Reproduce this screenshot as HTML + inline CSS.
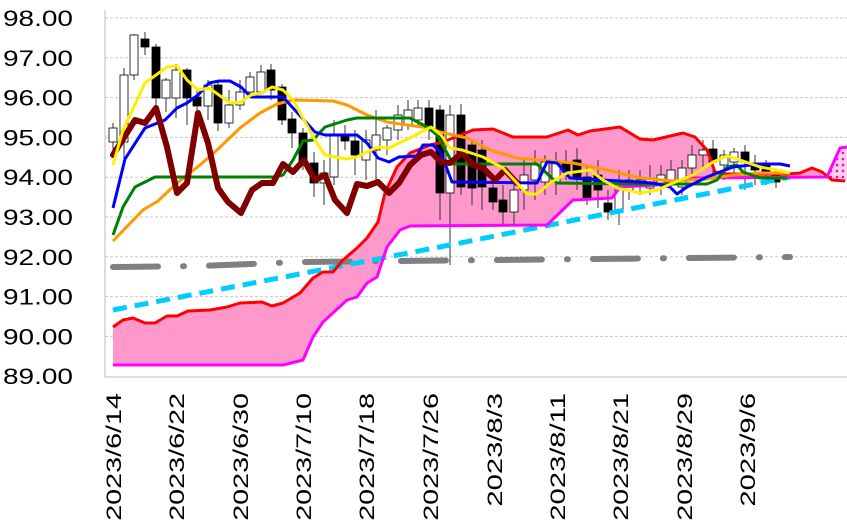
<!DOCTYPE html>
<html><head><meta charset="utf-8"><style>
html,body{margin:0;padding:0;background:#fff;}
svg{display:block;font-family:"Liberation Sans","Noto Sans CJK JP",sans-serif;}
</style></head><body>
<svg id="s" width="847" height="528" xmlns="http://www.w3.org/2000/svg">
<defs>
<pattern id="dots" width="6" height="6" patternUnits="userSpaceOnUse"><rect width="6" height="6" fill="#ffd0ec"/><circle cx="3" cy="3" r="1.3" fill="#ff00cc"/></pattern>
</defs>
<g id="grid" stroke="#c8c8c8" stroke-dasharray="3,2" stroke-width="1"></g>
<g id="ylab" font-size="22" fill="#000" text-anchor="end"></g>
<g id="xlab" font-size="21" fill="#000"></g>
<path id="cloud" fill="#ff99cc" stroke="none"/>
<path id="cloud2" fill="url(#dots)" stroke="none"/>
<line x1="105" y1="10" x2="105" y2="377" stroke="#bbb"/>
<line x1="105" y1="377" x2="847" y2="377" stroke="#bbb"/>
<g id="candles"></g>
<g id="lines" fill="none" stroke-linejoin="round"></g>
</svg>
<script>
var NS="http://www.w3.org/2000/svg";
function el(p,t,a,txt){var e=document.createElementNS(NS,t);for(var k in a)e.setAttribute(k,a[k]);if(txt)e.textContent=txt;document.getElementById(p).appendChild(e);return e;}
var vals=["98.00","97.00","96.00","95.00","94.00","93.00","92.00","91.00","90.00","89.00"];
for(var i=0;i<10;i++){var y=18+i*39.8;
 if(i<9)el("grid","line",{x1:105,y1:y,x2:847,y2:y});
 el("ylab","text",{x:73,y:y+8,textLength:70,lengthAdjust:"spacingAndGlyphs"},vals[i]);}
var xl=[[113,"2023/6/14"],[176,"2023/6/22"],[240,"2023/6/30"],[303,"2023/7/10"],[366,"2023/7/18"],[430,"2023/7/26"],[494,"2023/8/3"],[557,"2023/8/11"],[620,"2023/8/21"],[684,"2023/8/29"],[747,"2023/9/6"]];
xl.forEach(function(d){el("xlab","text",{transform:"translate("+(d[0]+8)+",393) rotate(-90)","text-anchor":"end",textLength:d[1].length*14.2,lengthAdjust:"spacingAndGlyphs"},d[1]);});
function P(s){return s.trim().split(/\s+/).map(function(p){return p.split(",").map(Number);});}
var red=P("113,327 123,320 133,318 145,323 155,323 167,316 177,316 188,311 210,310 227,307 240,303 262,302 272,306 283,303 300,293 313,278 323,272 333,272 343,260 357,248 367,238 378,222 385,193 397,167 410,153 430,145 443,142 473,130 493,129 513,137 547,137 568,130 578,135 590,131 620,127 640,139 653,140 683,133 695,137 707,150 715,172 727,174 787,174 800,173 812,168 822,172 832,180 845,181");
var mag=P("113,365 283,365 303,360 313,337 323,322 347,300 357,297 367,283 377,277 387,247 400,230 410,226 547,225 573,200 612,198 620,187 657,185 693,178 827,177 840,148 847,147");
var redMain=red.filter(function(p){return p[0]<=822;}), magMain=mag.filter(function(p){return p[0]<=827;});
function pts(a){return a.map(function(p){return p.join(",");}).join(" L");}
document.getElementById("cloud").setAttribute("d","M"+pts(redMain)+" L822,177 L"+pts(magMain.slice().reverse())+"Z");
document.getElementById("cloud2").setAttribute("d","M822,172 L832,180 L845,181 L847,181 L847,147 L840,148 L827,177Z");
var C=[[113,128,142,"w",123,150],[124,75,142,"w",68,160],[134,35,75,"w",34,80],[145,39,47,"b",32,55],[156,47,98,"b",44,110],[166,80,98,"w",78,112],[176,70,98,"w",64,118],[187,70,98,"b",68,125],[197,97,106,"b",90,110],[208,85,106,"w",80,120],[218,85,123,"b",80,131],[229,105,123,"w",90,128],[240,92,105,"w",80,110],[250,77,92,"w",72,98],[261,72,92,"w",65,95],[271,70,90,"b",64,100],[282,87,120,"b",84,125],[292,119,133,"b",112,148],[303,133,163,"b",128,170],[314,163,183,"b",152,197],[324,173,183,"w",160,205],[334,135,177,"w",120,185],[345,135,141,"b",125,150],[355,141,155,"b",130,175],[366,140,160,"w",130,180],[376,135,150,"w",110,180],[387,128,140,"w",125,155],[398,115,130,"w",105,140],[408,110,125,"w",100,130],[418,108,120,"w",100,125],[429,108,128,"b",100,140],[440,110,193,"b",105,220],[450,115,193,"w",105,265],[461,115,187,"b",104,195],[472,145,188,"b",140,205],[482,150,187,"b",140,210],[493,188,202,"b",175,210],[503,200,212,"b",185,225],[514,190,212,"w",180,225],[524,175,190,"w",160,210],[535,165,180,"w",150,200],[545,162,182,"w",155,195],[556,162,182,"w",152,195],[566,162,172,"b",150,180],[577,160,177,"b",148,190],[587,177,198,"b",165,205],[598,175,190,"b",160,208],[608,203,212,"b",190,220],[619,187,212,"w",170,225],[629,180,190,"w",170,200],[640,180,185,"w",170,195],[650,178,188,"w",165,195],[661,175,185,"w",165,195],[671,170,182,"w",160,190],[682,168,187,"w",160,195],[692,155,168,"w",145,175],[703,150,155,"w",140,170],[713,149,162,"b",140,175],[724,155,165,"w",150,180],[734,152,162,"w",148,175],[745,152,162,"b",145,190],[755,163,170,"b",155,185],[766,165,175,"b",160,185],[776,175,182,"b",170,188]];
C.forEach(function(c){
 el("candles","line",{x1:c[0],y1:c[4],x2:c[0],y2:c[5],stroke:"#333","stroke-width":1});
 el("candles","rect",{x:c[0]-4,y:c[1],width:8,height:Math.max(1,c[2]-c[1]),fill:c[3]=="b"?"#000":"#fff",stroke:"#000","stroke-width":0.8});
});
function line(a,col,w,extra){var o={points:a.map(function(p){return p.join(",");}).join(" "),stroke:col,"stroke-width":w};for(var k in extra)o[k]=extra[k];el("lines","polyline",o);}
line([[113,267],[200,266],[300,262],[790,257]],"#808080",6,{"stroke-dasharray":"45 25 1 25","stroke-linecap":"round"});
line([[113,310],[450,245],[790,177]],"#00ccff",5,{"stroke-dasharray":"14 8"});
line(red,"#ff0000",3,{});
line(mag,"#ff00ff",3,{});
line(P("113,241 143,210 158,201 177,183 200,165 217,150 240,128 260,113 277,104 293,100 333,101 347,105 367,115 387,122 407,125 430,128 440,132 467,138 490,150 517,158 540,160 573,163 607,170 640,178 673,181 707,179 733,175 760,173 790,173"),"#ff9900",3,{});
line(P("113,235 123,207 135,187 155,177 273,177 283,175 293,160 303,141 313,140 325,127 347,120 357,118 410,118 427,127 437,135 447,153 453,164 537,164 557,183 640,184 707,184 717,180 727,167 737,165 743,172 760,178 787,178"),"#008000",3,{});
line(P("113,208 125,159 145,128 165,120 177,108 187,103 198,95 209,83 219,81 230,81 241,87 251,97 283,97 293,108 304,120 315,132 325,135 357,135 367,143 378,158 389,162 399,157 417,156 423,145 433,145 441,153 452,182 537,183 547,162 557,163 570,178 653,183 670,187 677,194 687,187 707,177 733,167 760,164 780,164 790,166"),"#0000ff",3,{});
line(P("113,155 135,120 145,123 156,108 167,147 177,193 187,183 198,113 208,143 218,188 228,202 241,213 252,190 262,183 273,183 283,164 293,172 304,160 315,180 325,175 335,200 347,213 357,184 367,186 378,182 389,193 399,183 410,165 421,155 431,152 441,162 450,163 462,153 473,165 483,168 495,180 505,170 517,183"),"#800000",6,{"stroke-linecap":"round"});
line(P("113,165 123,130 145,83 167,67 177,66 187,80 198,90 209,88 219,95 230,103 241,102 251,95 262,93 272,87 283,90 293,100 304,120 315,140 325,155 346,159 357,157 367,152 378,147 389,148 399,143 410,138 421,132 431,127 441,135 450,148 462,150 483,157 503,168 517,183 527,194 537,194 550,183 567,173 590,170 603,180 617,188 640,193 657,190 673,183 693,175 713,162 727,156 740,160 760,167 777,170 790,173"),"#ffee00",3,{});
</script>
</body></html>
